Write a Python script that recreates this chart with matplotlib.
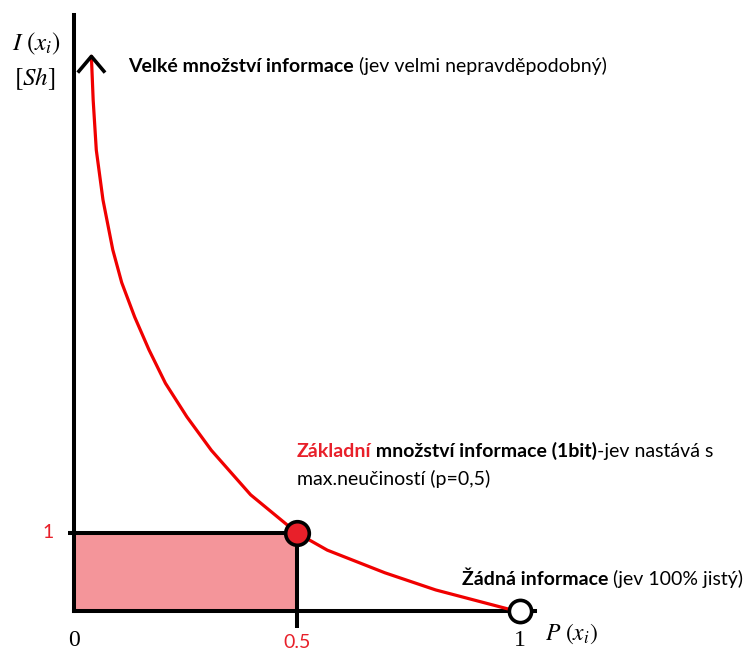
import matplotlib
matplotlib.use("Agg")
import matplotlib.pyplot as plt

# curve: probability -> information
p = [0.039, 0.043, 0.050, 0.065, 0.087, 0.107, 0.136, 0.168, 0.205, 0.253,
     0.308, 0.396, 0.50, 0.568, 0.697, 0.811, 0.924, 0.984, 1.0]
info = [7.11, 6.55, 5.91, 5.27, 4.63, 4.21, 3.77, 3.35, 2.92, 2.49,
        2.06, 1.49, 1.0, 0.78, 0.49, 0.27, 0.10, 0.01, 0.0]

base_p, base_i = 0.5, 1.0        # 1 bit
certain_p, certain_i = 1.0, 0.0  # no information

x_ticks = [0, 0.5, 1]
x_tick_labels = ["0", "0.5", "1"]

RED = "#e8202a"
FILL = "#f4959a"
SANS = ["Lato", "DejaVu Sans"]

plt.rcParams["mathtext.fontset"] = "stix"


def rich_text(ax, x, y, parts, size):
    """Draw consecutive text pieces with different colour/weight on one line."""
    t = ax.text(x, y, parts[0][0], color=parts[0][1], weight=parts[0][2],
                family=SANS, fontsize=size, va="baseline", ha="left")
    for s, c, w in parts[1:]:
        t = ax.annotate(s, xy=(1, 0), xycoords=t, va="bottom", ha="left",
                        color=c, weight=w, family=SANS, fontsize=size)
    return t


def main():
    fig = plt.figure(figsize=(7.45, 6.5), dpi=100)
    ax = fig.add_axes([0, 0, 1, 1])
    ax.set_xlim(-0.1659, 1.5045)
    ax.set_ylim(-0.5, 7.833)
    ax.axis("off")

    lw_axis = 2.9

    # shaded 1-bit rectangle
    ax.fill_between([0, base_p], 0, base_i, color=FILL, lw=0, zorder=1)
    ax.plot([-0.013, base_p], [base_i, base_i], color="black", lw=lw_axis,
            solid_capstyle="butt", zorder=2)
    ax.plot([base_p, base_p], [-0.22, base_i], color="black", lw=lw_axis,
            solid_capstyle="butt", zorder=2)

    # axes
    ax.plot([0, 0], [0, 7.64], color="black", lw=lw_axis, zorder=3)
    ax.plot([0, 1.034], [0, 0], color="black", lw=lw_axis, zorder=3)
    ax.plot([certain_p, certain_p], [-0.15, 0], color="black", lw=lw_axis,
            solid_capstyle="butt", zorder=3)

    # curve
    ax.plot(p, info, color="#f00000", lw=2.3, zorder=4,
            solid_capstyle="round", solid_joinstyle="round")

    # arrow head at the top of the curve
    dx, dy = 0.028, 0.19
    ax.plot([p[0] - dx, p[0], p[0] + dx], [info[0] - dy, info[0], info[0] - dy],
            color="black", lw=2.6, zorder=5)

    # marked points
    ax.plot([base_p], [base_i], "o", ms=17, mfc=RED, mec="black", mew=2.6, zorder=6)
    ax.plot([certain_p], [certain_i], "o", ms=16, mfc="white", mec="black",
            mew=2.6, zorder=6)

    # tick labels
    for xv, lab in zip(x_ticks, x_tick_labels):
        if lab == "0.5":
            ax.text(xv, -0.29, lab, color=RED, family=SANS, fontsize=14,
                    ha="center", va="top")
        else:
            ax.text(xv, -0.25, lab, color="black", family="Liberation Serif",
                    fontsize=17, ha="center", va="top")
    ax.text(-0.058, base_i, "1", color=RED, family=SANS, fontsize=14,
            ha="center", va="center")

    # axis names
    ax.text(-0.139, 7.19, r"$\mathit{I\ (x_i)}$", fontsize=18, ha="left",
            va="baseline")
    ax.text(-0.135, 6.74, r"$\mathit{[Sh]}$", fontsize=18, ha="left",
            va="baseline")
    ax.text(1.056, -0.37, r"$\mathit{P\ (x_i)}$", fontsize=17, ha="left",
            va="baseline")

    # annotations
    size = 14
    rich_text(ax, 0.121, 6.91,
              [("Velké množství informace", "black", "bold"),
               (" (jev velmi nepravděpodobný)", "black", "normal")], size)
    rich_text(ax, 0.50, 1.97,
              [("Základní", RED, "bold"),
               (" množství informace (1bit)", "black", "bold"),
               ("-jev nastává s", "black", "normal")], size)
    ax.text(0.50, 1.62, "max.neučiností (p=0,5)", family=SANS, fontsize=size,
            va="baseline", ha="left")
    rich_text(ax, 0.87, 0.33,
              [("Žádná informace", "black", "bold"),
               (" (jev 100% jistý)", "black", "normal")], size)

    fig.savefig("out.png", dpi=100)


if __name__ == "__main__":
    main()
